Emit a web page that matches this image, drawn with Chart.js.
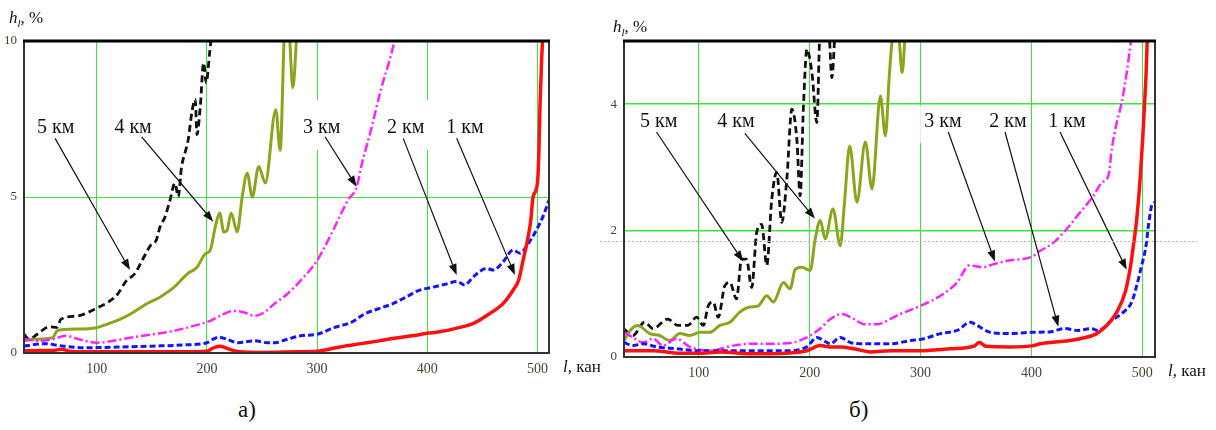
<!DOCTYPE html>
<html>
<head>
<meta charset="utf-8">
<script src="https://cdn.jsdelivr.net/npm/chart.js@4.4.1/dist/chart.umd.min.js"></script>
<style>
  body { margin: 0; background: #fff; width: 1216px; height: 430px; overflow: hidden; position: relative; font-family: "Liberation Serif", "Times New Roman", serif; }
  canvas { position: absolute; top: 0; }
  #chartA { left: 0; }
  #chartB { left: 600px; }
  .t { position: absolute; color: #111; white-space: nowrap; line-height: 1; }
  .ttl { font-size: 17px; }
  .ttl sub { font-size: 11px; vertical-align: -4px; }
  .cap { font-size: 23px; }
</style>
</head>
<body>
<canvas id="chartA" width="600" height="390"></canvas>
<canvas id="chartB" width="616" height="390"></canvas>

<div class="t ttl" style="left:9px;top:9px"><i>h</i><sub><i>l</i></sub>, %</div>
<div class="t ttl" style="left:613px;top:18px"><i>h</i><sub><i>l</i></sub>, %</div>
<div class="t ttl" style="left:563px;top:358px"><i>l</i>, кан</div>
<div class="t ttl" style="left:1168px;top:362px"><i>l</i>, кан</div>
<div class="t cap" style="left:238px;top:398px">а)</div>
<div class="t cap" style="left:849px;top:398px">б)</div>

<script>
const xTicks = [100, 200, 300, 400, 500];
const aYTicks = [0, 5, 10];
const bYTicks = [0, 2, 4];

// ---- panel а) ----
const a1X = [34, 50, 60, 68, 75, 90, 120, 150, 180, 200, 207, 212, 218, 222, 230, 250, 280, 300, 315, 325, 340, 355, 370, 386, 400, 411, 426, 442, 457, 469, 478, 483, 487, 491, 494, 496, 500, 501.3, 502.3, 503.8, 505.3];
const a1Y = [0.07, 0.08, 0.08, 0.12, 0.06, 0.04, 0.04, 0.04, 0.04, 0.06, 0.18, 0.22, 0.15, 0.1, 0.04, 0.02, 0.04, 0.06, 0.15, 0.22, 0.3, 0.38, 0.47, 0.55, 0.63, 0.68, 0.79, 0.95, 1.27, 1.59, 2.02, 2.34, 2.98, 3.62, 4.26, 5.0, 5.44, 6.4, 7.9, 9.4, 10.5];

const a2X = [34, 45, 55, 62, 70, 90, 120, 150, 180, 200, 206, 211, 218, 228, 243, 255, 262, 273, 285, 300, 316, 331, 343, 355, 368, 380, 392, 404, 416, 427, 434, 442, 454, 460, 469, 478, 484, 492, 499, 505, 510.5];
const a2Y = [0.22, 0.28, 0.3, 0.26, 0.22, 0.17, 0.19, 0.22, 0.26, 0.33, 0.45, 0.51, 0.44, 0.33, 0.39, 0.33, 0.33, 0.44, 0.55, 0.6, 0.82, 0.98, 1.25, 1.41, 1.57, 1.78, 2.0, 2.1, 2.2, 2.29, 2.18, 2.45, 2.71, 2.66, 2.93, 3.3, 3.2, 3.52, 3.94, 4.37, 4.9];

const a3X = [34, 48, 60, 72, 84, 100, 115, 130, 151, 170, 188, 203, 212, 224, 234, 243, 252, 261, 273, 285, 299, 310, 319, 328, 336, 340, 349, 358, 366, 374];
const a3Y = [0.44, 0.39, 0.44, 0.55, 0.44, 0.33, 0.39, 0.49, 0.6, 0.71, 0.87, 1.03, 1.19, 1.35, 1.3, 1.19, 1.3, 1.57, 1.89, 2.32, 2.91, 3.61, 4.26, 4.9, 5.33, 5.97, 7.16, 8.45, 9.41, 10.5];

const a4X = [34, 42, 60, 64, 75, 100, 109, 121, 133, 145, 157, 170, 182, 191, 198.5, 203, 207.6, 211.6, 215.3, 218.3, 222, 227.5, 232, 236.6, 241.2, 247, 253, 262.5, 266.5, 271, 274, 278, 282];
const a4Y = [0.39, 0.44, 0.49, 0.71, 0.76, 0.81, 0.92, 1.08, 1.3, 1.57, 1.78, 2.1, 2.53, 2.75, 3.18, 3.29, 4.04, 4.49, 3.88, 3.93, 4.49, 3.88, 5.0, 5.76, 5.0, 5.98, 5.45, 7.8, 6.5, 10.5, 10.5, 8.5, 10.5];

const a5X = [34, 38.5, 46, 57, 64, 67.5, 83, 92, 101, 110, 119, 127, 134.5, 142, 150, 154, 157.4, 162, 166.5, 171, 174, 177, 180, 183, 186.3, 189.4, 191, 194, 197, 199.4, 202.5, 205];
const a5Y = [0.6, 0.44, 0.6, 0.84, 0.82, 1.08, 1.19, 1.3, 1.46, 1.62, 1.89, 2.32, 2.54, 3.02, 3.5, 3.61, 4.04, 4.36, 4.9, 5.44, 5.01, 5.97, 6.4, 6.83, 7.7, 8.13, 7.0, 7.9, 9.3, 8.66, 9.63, 10.5];

// ---- panel б) ----
const b1X = [32.5, 59, 83, 104, 119, 149, 179, 197.5, 209.5, 218.6, 227.6, 240, 255, 273, 297, 327, 348, 353, 359, 381, 402, 408, 424, 444, 459, 468, 477, 484.5, 489, 492, 495, 498, 500.4, 502, 503.5, 505];
const b1Y = [0.1, 0.1, 0.06, 0.06, 0.08, 0.05, 0.06, 0.1, 0.18, 0.16, 0.16, 0.13, 0.08, 0.1, 0.1, 0.13, 0.17, 0.23, 0.17, 0.16, 0.18, 0.21, 0.24, 0.29, 0.37, 0.5, 0.71, 1.02, 1.39, 1.76, 2.18, 2.8, 3.45, 3.98, 4.5, 5.3];

const b2X = [32.5, 40.6, 49.6, 61.7, 80, 98, 119, 143, 161, 179, 197.5, 206.5, 212.5, 218.6, 227.6, 236.7, 246, 255, 273, 291, 303, 318, 333, 345, 351, 363, 381, 399.5, 417.6, 429.7, 442, 454, 460, 472.5, 483, 490.5, 495, 499.5, 503.4, 505.6, 508.6, 511.6];
const b2Y = [0.23, 0.18, 0.21, 0.16, 0.13, 0.1, 0.1, 0.1, 0.1, 0.1, 0.16, 0.31, 0.26, 0.21, 0.31, 0.23, 0.21, 0.21, 0.21, 0.26, 0.29, 0.37, 0.42, 0.55, 0.5, 0.39, 0.37, 0.39, 0.4, 0.45, 0.42, 0.45, 0.42, 0.58, 0.71, 0.87, 1.13, 1.45, 1.76, 2.08, 2.4, 2.45];

const b3X = [32.5, 40.6, 49.6, 58.7, 67.7, 79.8, 92, 110, 131, 149, 167, 185, 197.5, 209.5, 218.6, 229, 240, 249, 261, 279, 300, 318, 333, 344, 356, 366, 381, 399.5, 408, 420, 432, 444, 456, 463.5, 469.5, 472.5, 477, 481.5, 486, 490.5];
const b3Y = [0.39, 0.31, 0.23, 0.29, 0.18, 0.29, 0.16, 0.1, 0.18, 0.21, 0.21, 0.23, 0.31, 0.45, 0.6, 0.68, 0.6, 0.52, 0.52, 0.66, 0.81, 0.97, 1.18, 1.45, 1.42, 1.47, 1.53, 1.58, 1.68, 1.81, 2.03, 2.29, 2.55, 2.76, 2.87, 3.29, 3.71, 4.03, 4.5, 5.1];

const b4X = [32.5, 39, 45, 55.7, 64.7, 73.8, 82.8, 92, 101, 110, 119, 128, 137, 146, 153.7, 161.3, 167.3, 176.3, 182.4, 187, 193, 200.5, 205, 209.5, 214, 221, 227.6, 231.2, 236.1, 242.6, 250.2, 256.2, 263.8, 268.3, 272, 275.5, 280, 283.4, 286.4];
const b4Y = [0.26, 0.44, 0.5, 0.37, 0.34, 0.26, 0.37, 0.34, 0.39, 0.39, 0.5, 0.55, 0.71, 0.79, 0.81, 0.97, 0.87, 1.18, 1.08, 1.39, 1.42, 1.37, 1.87, 2.16, 1.87, 2.34, 1.76, 2.4, 3.34, 2.45, 3.4, 2.66, 4.13, 3.5, 4.5, 5.1, 5.1, 4.5, 5.2];

const b5X = [32.5, 40.6, 51, 58.7, 72, 81, 90, 98, 104, 108.5, 113, 117.5, 123.5, 128, 134, 138.6, 143, 147.7, 152.2, 156.7, 161.3, 165.8, 170.3, 174.8, 179.4, 183.9, 188.4, 191.4, 194.4, 197.5, 202, 206.5, 209.5, 217, 220, 223];
const b5Y = [0.44, 0.34, 0.55, 0.45, 0.6, 0.5, 0.5, 0.63, 0.5, 0.81, 0.87, 0.63, 1.13, 1.18, 0.92, 1.55, 1.55, 1.1, 1.97, 2.1, 1.45, 2.5, 2.92, 2.13, 2.82, 3.92, 3.45, 2.55, 3.98, 4.87, 4.5, 3.71, 5.2, 5.2, 4.42, 5.2];

// callouts: label text, label centre, arrow start and arrow tip (data units)
const noteText = ["5 км", "4 км", "3 км", "2 км", "1 км"];
const aNoteX = [62.7, 133, 304.2, 380.5, 434.2];
const aNoteY = [7.21, 7.21, 7.21, 7.21, 7.21];
const aFromX = [62.2, 140.8, 307.2, 378.2, 426.7];
const aFromY = [6.88, 6.93, 6.93, 6.88, 6.88];
const aToX = [130.2, 205.8, 335.9, 426.7, 479.6];
const aToY = [2.66, 4.21, 5.33, 2.5, 2.5];

const bNoteX = [63.9, 133.4, 320.2, 378.9, 432.1];
const bNoteY = [3.73, 3.73, 3.73, 3.73, 3.73];
const bFromX = [61.8, 141.5, 325, 376.2, 425.8];
const bFromY = [3.56, 3.54, 3.56, 3.56, 3.56];
const bToX = [140, 204.7, 367.1, 424.3, 486];
const bToY = [1.51, 2.19, 1.51, 0.48, 1.38];

const bRefLine = 1.83;

const styles = [
  { borderColor: "#ff1010", borderWidth: 3.5, borderDash: [] },
  { borderColor: "#1414ff", borderWidth: 3, borderDash: [6, 3] },
  { borderColor: "#ff22ff", borderWidth: 2.5, borderDash: [9, 3, 2, 3] },
  { borderColor: "#8ca51e", borderWidth: 3, borderDash: [] },
  { borderColor: "#111111", borderWidth: 2.8, borderDash: [7, 4] },
];

const GREEN = "#3ee43e";
const TICK_COLOR = "#4b3f33";
const FONT = '"Liberation Serif", "Times New Roman", serif';

function toPoints(xs, ys) {
  return xs.map((x, i) => ({ x, y: ys[i] }));
}

function buildDatasets(seriesList) {
  return seriesList.map(([xs, ys], i) => ({
    label: noteText[4 - i],
    data: toPoints(xs, ys),
    ...styles[i],
    pointRadius: 0,
    fill: false,
    cubicInterpolationMode: "monotone",
  }));
}

function notesPlugin(notes, boxUp, boxDown) {
  return {
    id: "notes",
    beforeDatasetsDraw(chart) {
      const { ctx, scales: { x, y } } = chart;
      ctx.save();
      ctx.font = `20px ${FONT}`;
      ctx.fillStyle = "#fff";
      notes.text.forEach((t, i) => {
        const px = x.getPixelForValue(notes.nx[i]);
        const py = y.getPixelForValue(notes.ny[i]);
        const w = ctx.measureText(t).width + 8;
        ctx.fillRect(px - w / 2, py - boxUp, w, boxUp + boxDown);
      });
      ctx.restore();
    },
    afterDatasetsDraw(chart) {
      const { ctx, scales: { x, y } } = chart;
      ctx.save();
      ctx.font = `20px ${FONT}`;
      ctx.textAlign = "center";
      ctx.textBaseline = "middle";
      ctx.fillStyle = "#111";
      ctx.strokeStyle = "#111";
      ctx.lineWidth = 1.2;
      notes.text.forEach((t, i) => {
        ctx.fillText(t, x.getPixelForValue(notes.nx[i]), y.getPixelForValue(notes.ny[i]));
        const x0 = x.getPixelForValue(notes.fx[i]);
        const y0 = y.getPixelForValue(notes.fy[i]);
        const x1 = x.getPixelForValue(notes.tx[i]);
        const y1 = y.getPixelForValue(notes.ty[i]);
        const ang = Math.atan2(y1 - y0, x1 - x0);
        const len = 11;
        const bx = x1 - len * Math.cos(ang);
        const by = y1 - len * Math.sin(ang);
        ctx.beginPath();
        ctx.moveTo(x0, y0);
        ctx.lineTo(bx, by);
        ctx.stroke();
        ctx.beginPath();
        ctx.moveTo(x1, y1);
        ctx.lineTo(bx + 4 * Math.sin(ang), by - 4 * Math.cos(ang));
        ctx.lineTo(bx - 4 * Math.sin(ang), by + 4 * Math.cos(ang));
        ctx.closePath();
        ctx.fill();
      });
      ctx.restore();
    },
    afterDraw(chart) {
      const { ctx, chartArea: a } = chart;
      ctx.save();
      ctx.strokeStyle = "#333";
      ctx.lineWidth = 2;
      ctx.strokeRect(a.left, a.top, a.right - a.left, a.bottom - a.top);
      ctx.strokeStyle = "#000";
      ctx.lineWidth = 3;
      ctx.beginPath();
      ctx.moveTo(a.left - 1, a.top);
      ctx.lineTo(a.right + 1, a.top);
      ctx.stroke();
      ctx.restore();
    },
  };
}

const refLinePlugin = {
  id: "refLine",
  afterDatasetsDraw(chart) {
    const { ctx, chartArea: a, scales: { y } } = chart;
    const py = Math.round(y.getPixelForValue(bRefLine)) + 0.5;
    ctx.save();
    ctx.strokeStyle = "#b8b8b8";
    ctx.lineWidth = 1;
    ctx.setLineDash([2, 2]);
    ctx.beginPath();
    ctx.moveTo(0, py);
    ctx.lineTo(a.right + 42, py);
    ctx.stroke();
    ctx.restore();
  },
};

function buildConfig({ datasets, xMin, xMax, yMax, yTicks, hGrid, hWidth, xAxisHeight, padRight, notes, boxUp, boxDown, extra }) {
  return {
    type: "line",
    data: { datasets },
    options: {
      responsive: false,
      animation: false,
      devicePixelRatio: 1,
      layout: { padding: { left: 0, top: 41, right: padRight, bottom: 0 } },
      plugins: { legend: { display: false }, tooltip: { enabled: false } },
      scales: {
        x: {
          type: "linear",
          min: xMin,
          max: xMax,
          afterBuildTicks: (s) => { s.ticks = xTicks.map((v) => ({ value: v })); },
          afterFit: (s) => { s.height = xAxisHeight; },
          border: { display: false },
          grid: { color: GREEN, lineWidth: 1, drawTicks: false },
          ticks: { autoSkip: false, maxRotation: 0, padding: 8, color: TICK_COLOR, font: { family: FONT, size: 14 } },
        },
        y: {
          type: "linear",
          min: 0,
          max: yMax,
          afterBuildTicks: (s) => { s.ticks = yTicks.map((v) => ({ value: v })); },
          afterFit: (s) => { s.width = 24; },
          border: { display: false },
          grid: {
            drawTicks: false,
            lineWidth: hWidth,
            color: (ctx) => (hGrid.includes(ctx.tick.value) ? GREEN : "rgba(0,0,0,0)"),
          },
          ticks: { autoSkip: false, padding: 7, color: TICK_COLOR, font: { family: FONT, size: 13 } },
        },
      },
    },
    plugins: [notesPlugin(notes, boxUp, boxDown), ...(extra || [])],
  };
}

new Chart(document.getElementById("chartA"), buildConfig({
  datasets: buildDatasets([[a1X, a1Y], [a2X, a2Y], [a3X, a3Y], [a4X, a4Y], [a5X, a5Y]]),
  xMin: 34, xMax: 510.5, yMax: 10, yTicks: aYTicks, hGrid: [5], hWidth: 1,
  xAxisHeight: 37, padRight: 51,
  notes: { text: noteText, nx: aNoteX, ny: aNoteY, fx: aFromX, fy: aFromY, tx: aToX, ty: aToY },
  boxUp: 28, boxDown: 22,
}));

new Chart(document.getElementById("chartB"), buildConfig({
  datasets: buildDatasets([[b1X, b1Y], [b2X, b2Y], [b3X, b3Y], [b4X, b4Y], [b5X, b5Y]]),
  xMin: 32.5, xMax: 511.5, yMax: 5, yTicks: bYTicks, hGrid: [2, 4], hWidth: 1.5,
  xAxisHeight: 33, padRight: 61,
  notes: { text: noteText, nx: bNoteX, ny: bNoteY, fx: bFromX, fy: bFromY, tx: bToX, ty: bToY },
  boxUp: 16, boxDown: 22,
  extra: [refLinePlugin],
}));
</script>
</body>
</html>
